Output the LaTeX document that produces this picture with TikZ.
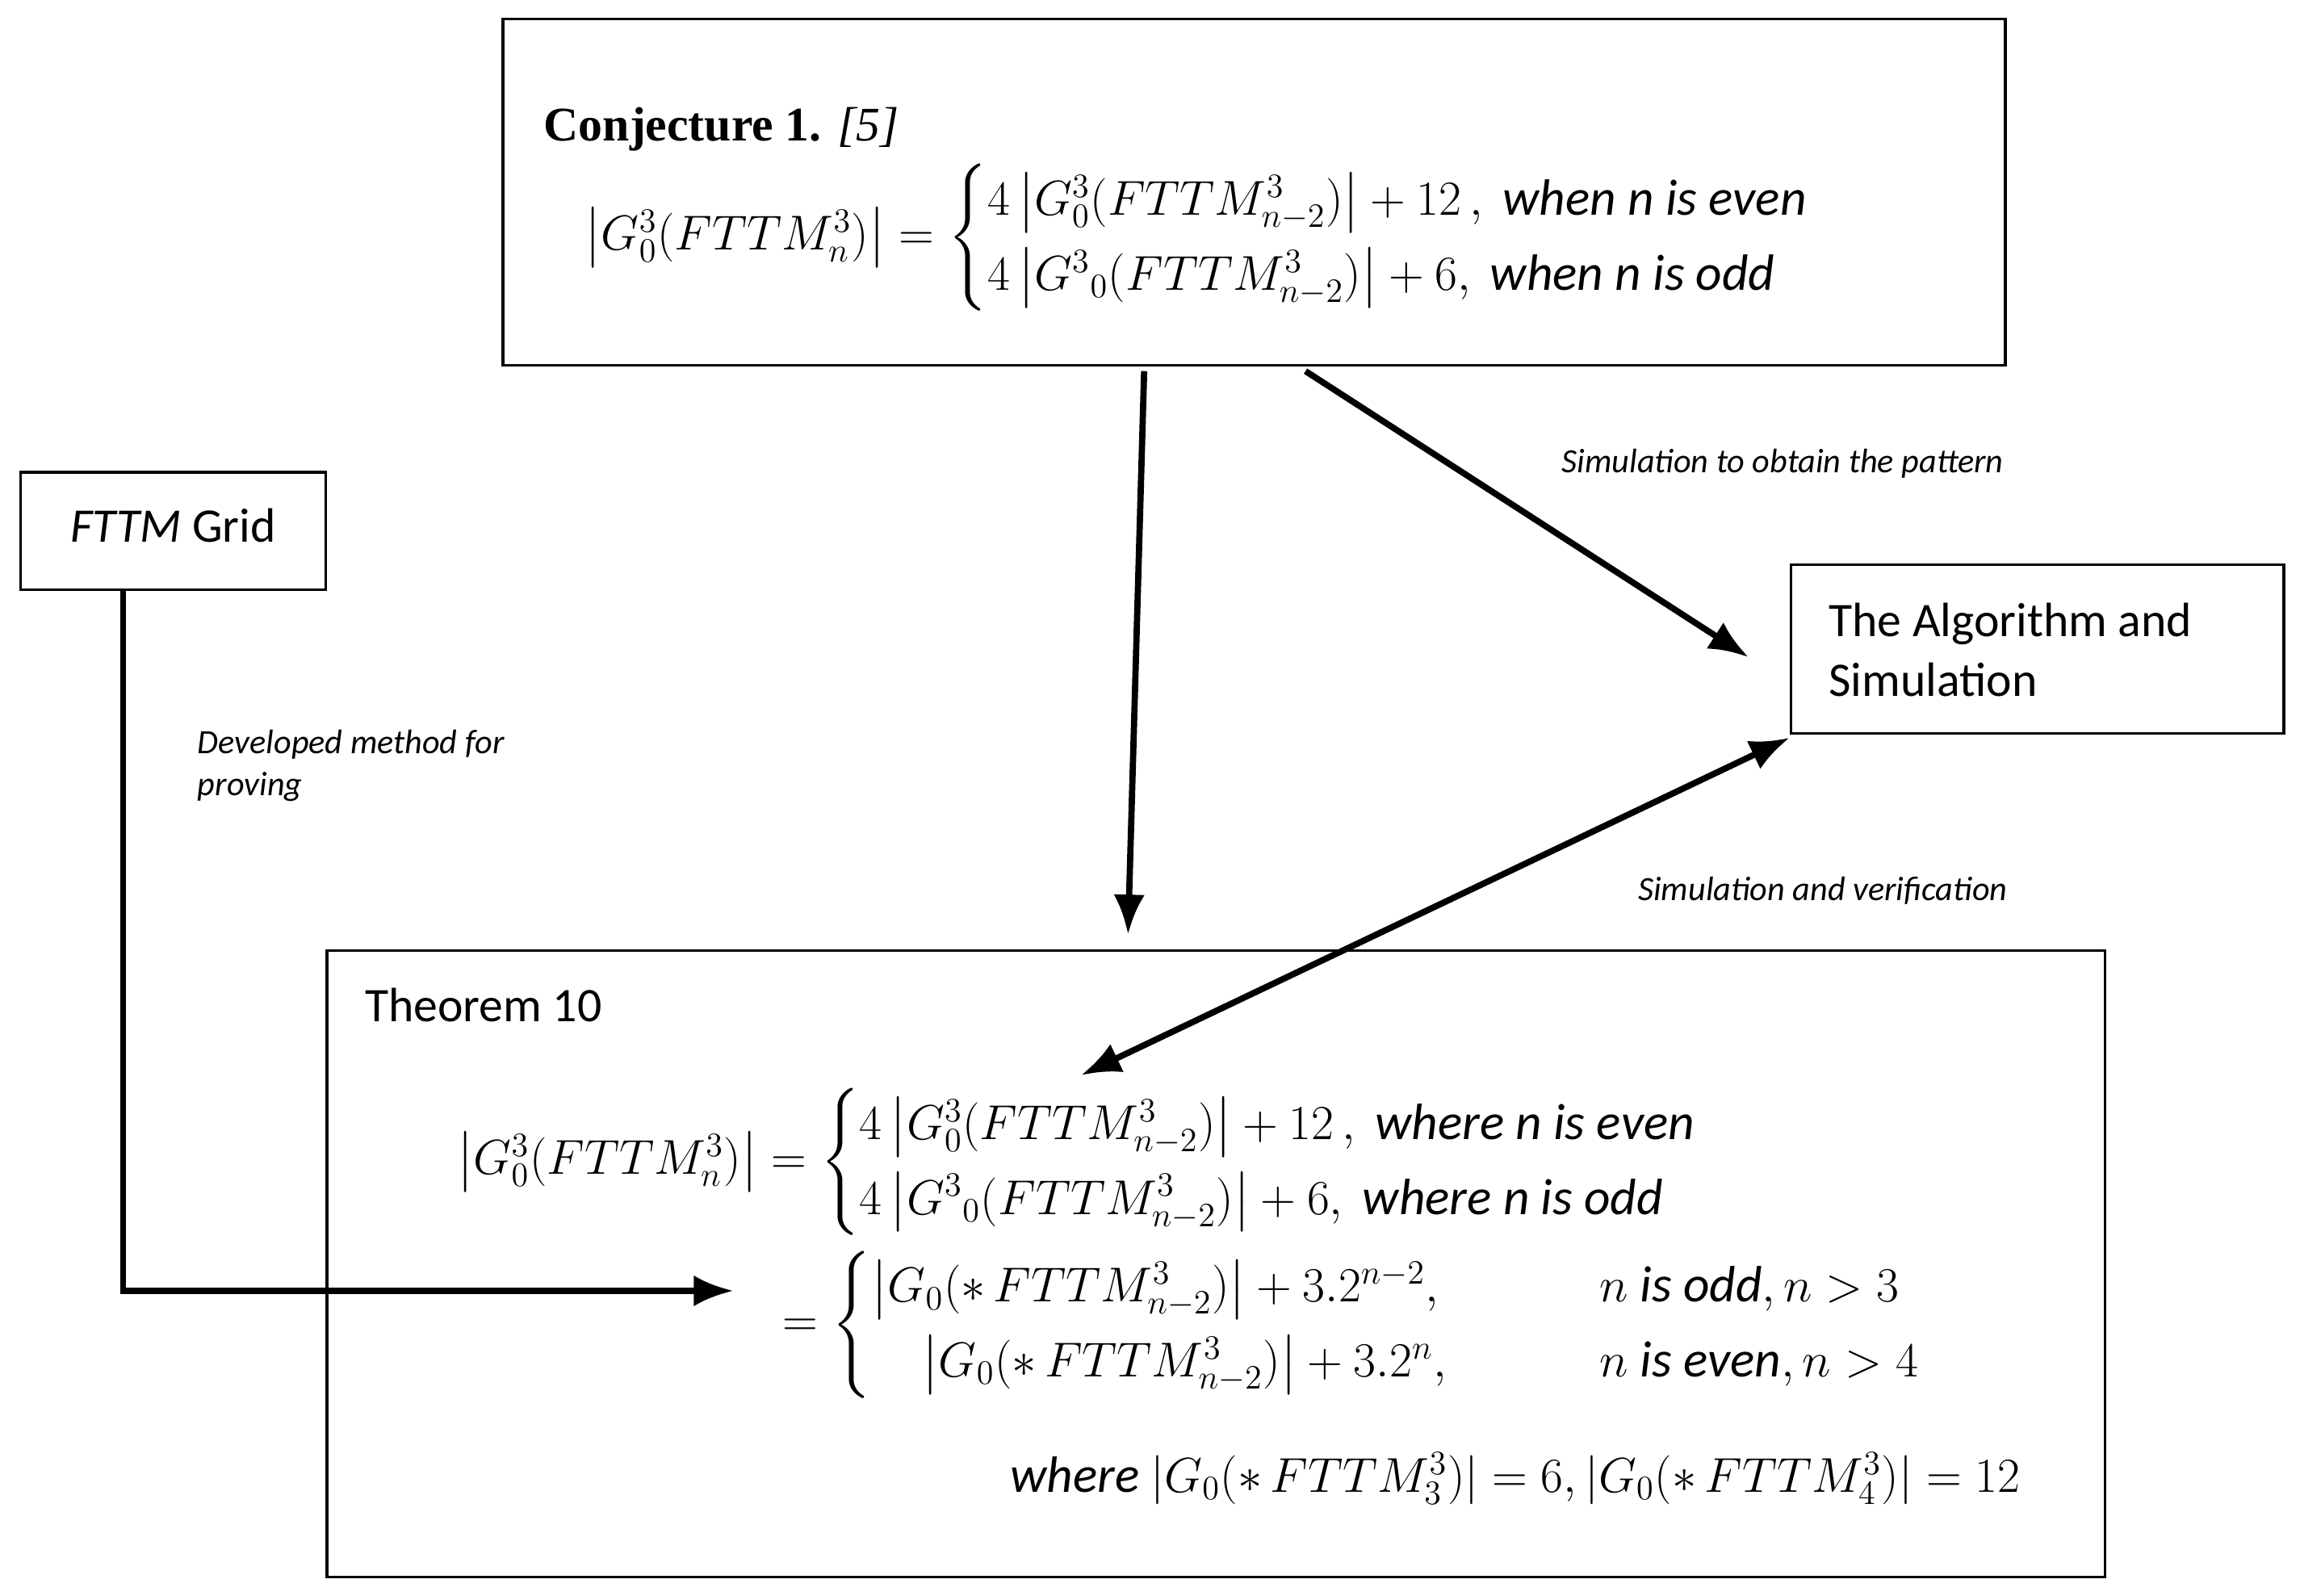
\documentclass[tikz,border=0pt]{standalone}
\usepackage{amsmath}
\usepackage{fontspec}
\setmainfont{Carlito}
\usetikzlibrary{arrows.meta}
\begin{document}
\begin{tikzpicture}[x=0.01817cm,y=-0.01817cm,
  box/.style={draw,line width=1pt},
  arr/.style={line width=2.2pt,-{Latex[length=14pt,width=11pt]}},
  lab/.style={font=\fontsize{12}{15}\selectfont\itshape,align=left,anchor=west},
  txt/.style={font=\fontsize{17}{21}\selectfont},
  mth/.style={font=\fontsize{18}{22}\selectfont,anchor=west}]
\useasboundingbox (0,0) rectangle (1568,1088);
\draw[box] (343,13) rectangle (1367,249);
\draw[box] (14,322) rectangle (222,402);
\draw[box] (1221,385) rectangle (1557,500);
\draw[box] (223,648) rectangle (1435,1075);
\node[txt] (gridt) at (118,358) {\textit{FTTM} Grid};
\node[txt,align=left,anchor=west] (algt) at (1240,443) {The Algorithm and\\Simulation};
\node[font=\fontsize{17}{21}\selectfont,anchor=west] (conjt) at (364,88) {\fontspec{Liberation Serif}\textbf{Conjecture 1.} \textit{[5]}};
\node[mth] (conjm) at (392,162) {$\left|G_0^3(FTTM_n^3)\right| = \begin{cases}4\left|G_0^3(FTTM_{n-2}^3)\right|+12\,,\ \mathit{when\ n\ is\ even}\\ 4\left|G^3{}_0(FTTM_{n-2}^3)\right|+6,\ \mathit{when\ n\ is\ odd}\end{cases}$};
\node[txt,anchor=west] (thmt) at (242,685) {Theorem 10};
\node[mth] (thm1) at (305,792) {$\left|G_0^3(FTTM_n^3)\right| = \begin{cases}4\left|G_0^3(FTTM_{n-2}^3)\right|+12\,,\ \mathit{where\ n\ is\ even}\\ 4\left|G^3{}_0(FTTM_{n-2}^3)\right|+6,\ \mathit{where\ n\ is\ odd}\end{cases}$};
\node[mth] (thm2) at (527,903) {$= \begin{cases}\left|G_0(*\,FTTM_{n-2}^3)\right|+3.2^{n-2}, & \qquad n\ \mathit{is\ odd}, n>3\\ \quad\left|G_0(*\,FTTM_{n-2}^3)\right|+3.2^{n}, & \qquad n\ \mathit{is\ even}, n>4\end{cases}$};
\node[mth] (thm3) at (682,1008) {$\mathit{where}\ |G_0(*\,FTTM_3^3)|=6,|G_0(*\,FTTM_4^3)|=12$};
\node[lab] (l1) at (1058,316) {Simulation to obtain the pattern};
\node[lab] (l2) at (1110,607) {Simulation and verification};
\node[lab] (l3) at (128,522) {Developed method for\\proving};
\coordinate (a1) at (780,253); \coordinate (a2) at (769,637);
\coordinate (b1) at (890,253); \coordinate (b2) at (1192,448);
\coordinate (c1) at (1220,503); \coordinate (c2) at (737,733);
\coordinate (d1) at (84,402); \coordinate (d2) at (84,880); \coordinate (d3) at (500,880);
\draw[arr] (a1) -- (a2);
\draw[arr] (b1) -- (b2);
\draw[arr,{Latex[length=14pt,width=11pt]}-{Latex[length=14pt,width=11pt]}] (c1) -- (c2);
\draw[arr] (d1) -- (d2) -- (d3);
\end{tikzpicture}
\end{document}
